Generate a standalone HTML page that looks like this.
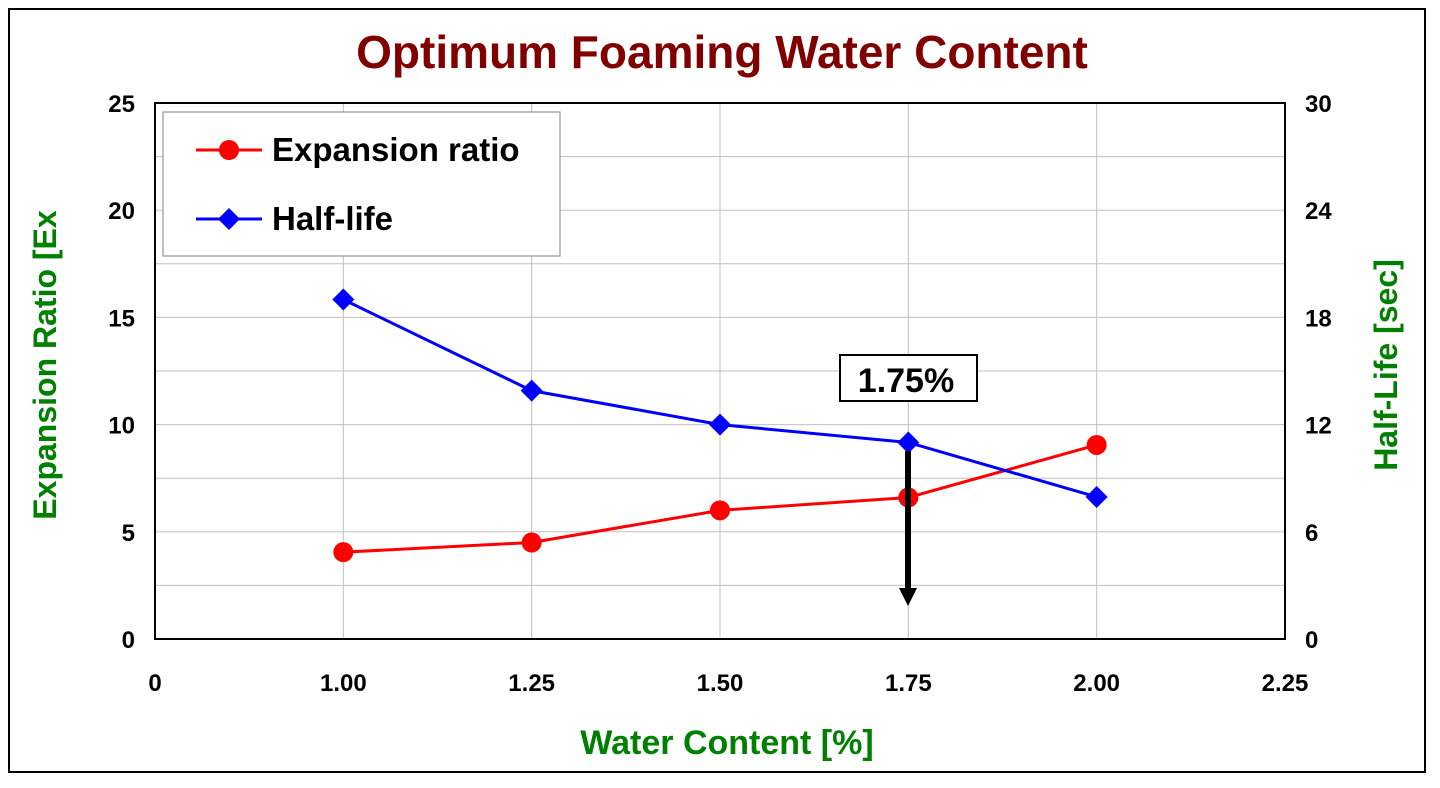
<!DOCTYPE html>
<html><head><meta charset="utf-8"><style>
body{margin:0;background:#fff;}
svg{display:block;font-family:"Liberation Sans",Arial,sans-serif;font-weight:bold;}
</style></head><body>
<svg id="chart" width="1440" height="788">
<rect x="9" y="9" width="1416" height="763" fill="#fff" stroke="#000" stroke-width="2"/>
<text x="722" y="68" text-anchor="middle" font-size="46" fill="#800000">Optimum Foaming Water Content</text>
<g id="grid"></g>
<g id="axes"></g>
<g id="series"></g>
<text x="727" y="754" text-anchor="middle" font-size="34" fill="#008000">Water Content [%]</text>
<text transform="translate(56,365) rotate(-90)" text-anchor="middle" font-size="32" fill="#008000">Expansion Ratio [Ex</text>
<text transform="translate(1397,365) rotate(-90)" text-anchor="middle" font-size="32" fill="#008000">Half-Life [sec]</text>
<g>
<rect x="163" y="112" width="397" height="144" fill="#fff" stroke="#808080" stroke-width="1"/>
<g>
<line x1="196" y1="150" x2="262" y2="150" stroke="#ff0000" stroke-width="3"/>
<circle cx="229" cy="150" r="10" fill="#ff0000"/>
<text x="272" y="161" font-size="33" fill="#000">Expansion ratio</text></g>
<g>
<line x1="196" y1="219" x2="262" y2="219" stroke="#0000ff" stroke-width="3"/>
<polygon points="229,208 240,219 229,230 218,219" fill="#0000ff"/>
<text x="272" y="230" font-size="33" fill="#000">Half-life</text></g>
</g>
<g>
<line x1="908" y1="451" x2="908" y2="592" stroke="#000" stroke-width="6"/>
<polygon points="899,588 917,588 908,606" fill="#000"/>
<rect x="840" y="355" width="137" height="46" fill="#fff" stroke="#000" stroke-width="2"/>
<text x="906" y="392" text-anchor="middle" font-size="34" fill="#000">1.75%</text>
</g>
</svg>
<script>
const xLabels=["0","1.00","1.25","1.50","1.75","2.00","2.25"];
const seriesX=[1,2,3,4,5];
const expansion=[4.05,4.5,6.0,6.6,9.05];
const halfLife=[19.0,13.9,12.0,11.0,7.95];
const leftTicks=[0,5,10,15,20,25];
const rightTicks=[0,6,12,18,24,30];
const L=155,R=1285,T=103,B=639;
const NS="http://www.w3.org/2000/svg";
const xp=i=>L+(R-L)*i/(xLabels.length-1);
const yl=v=>B-(B-T)*v/25;
const yr=v=>B-(B-T)*v/30;
function mk(tag,a,p){const e=document.createElementNS(NS,tag);for(const k in a)e.setAttribute(k,a[k]);p.appendChild(e);return e;}
const grid=document.getElementById('grid'),axes=document.getElementById('axes'),ser=document.getElementById('series');
for(let v=2.5;v<25;v+=2.5){const g=mk('line',{x1:L,x2:R,y1:yl(v),y2:yl(v),stroke:'#c0c0c0','stroke-width':1},grid);

}
for(let i=1;i<xLabels.length-1;i++){const g=mk('line',{x1:xp(i),x2:xp(i),y1:T,y2:B,stroke:'#c0c0c0','stroke-width':1},grid);

}
const fr=mk('rect',{x:L,y:T,width:R-L,height:B-T,fill:'none',stroke:'#000','stroke-width':2},axes);


xLabels.forEach((s,i)=>{const t=mk('text',{x:xp(i),y:B+52,'text-anchor':'middle','font-size':24,fill:'#000'},axes);t.textContent=s;

});
leftTicks.forEach(v=>{const t=mk('text',{x:L-20,y:yl(v)+9,'text-anchor':'end','font-size':24,fill:'#000'},axes);t.textContent=v;

});
rightTicks.forEach(v=>{const t=mk('text',{x:R+20,y:yr(v)+9,'text-anchor':'start','font-size':24,fill:'#000'},axes);t.textContent=v;

});
const pl1=mk('polyline',{points:seriesX.map((x,i)=>xp(x)+','+yl(expansion[i])).join(' '),fill:'none',stroke:'#ff0000','stroke-width':3},ser);


const pl2=mk('polyline',{points:seriesX.map((x,i)=>xp(x)+','+yr(halfLife[i])).join(' '),fill:'none',stroke:'#0000ff','stroke-width':3},ser);


seriesX.forEach((x,i)=>{const c=mk('circle',{cx:xp(x),cy:yl(expansion[i]),r:10,fill:'#ff0000'},ser);


const X=xp(x),Y=yr(halfLife[i]);
const d=mk('polygon',{points:`${X},${Y-11} ${X+11},${Y} ${X},${Y+11} ${X-11},${Y}`,fill:'#0000ff'},ser);

});
</script>
</body></html>
